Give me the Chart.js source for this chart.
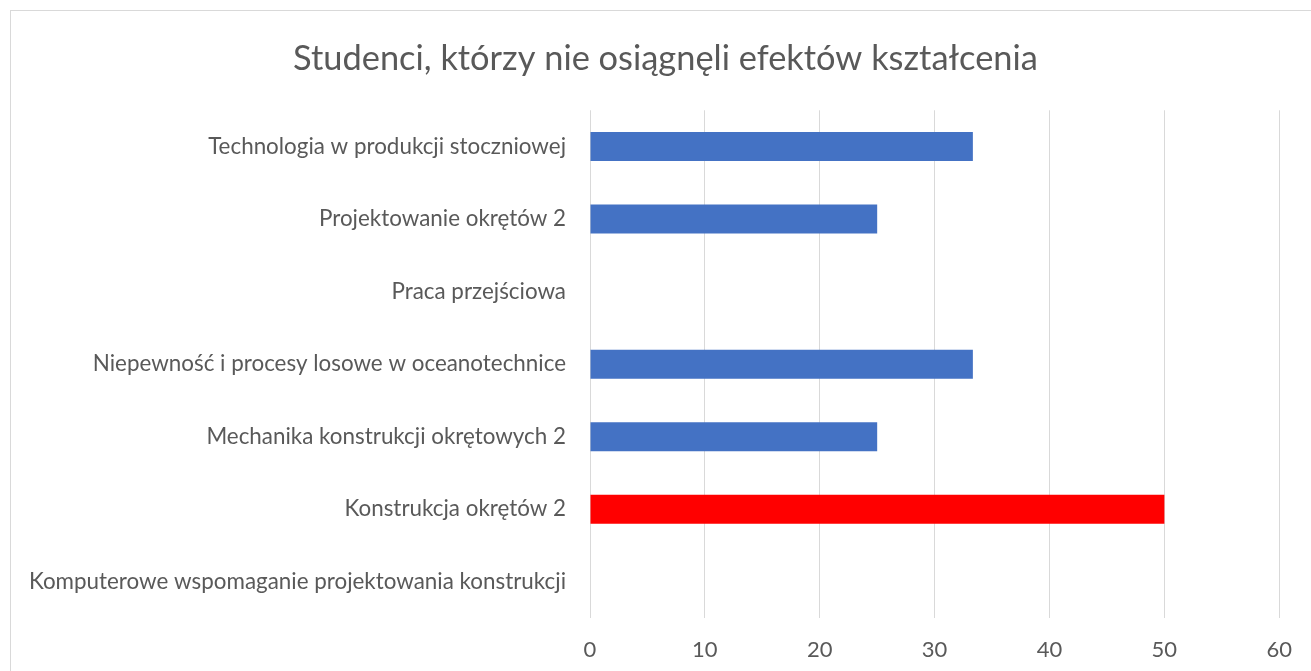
<!DOCTYPE html>
<html><head><meta charset="utf-8">
<script src="https://cdn.jsdelivr.net/npm/chart.js@4/dist/chart.umd.min.js"></script>
<style>
html,body{margin:0;padding:0;background:#fff;overflow:hidden;}
#frame{position:absolute;left:10px;top:10px;width:1400px;height:800px;border:1px solid #d9d9d9;box-sizing:border-box;}
#wrap{position:absolute;left:0;top:0;width:1311px;height:671px;}
</style></head><body>
<div id="frame"></div>
<div id="wrap"><canvas id="c" width="1311" height="671"></canvas></div>
<script>
const title = "Studenci, którzy nie osiągnęli efektów kształcenia";
const categories = [
  "Technologia w produkcji stoczniowej",
  "Projektowanie okrętów 2",
  "Praca przejściowa",
  "Niepewność i procesy losowe w oceanotechnice",
  "Mechanika konstrukcji okrętowych 2",
  "Konstrukcja okrętów 2",
  "Komputerowe wspomaganie projektowania konstrukcji"
];
const values = [33.33, 25, 0, 33.33, 25, 50, 0];
const barColors = ["#4472C4", "#4472C4", "#4472C4", "#4472C4", "#4472C4", "#FF0000", "#4472C4"];
const xTicks = [0, 10, 20, 30, 40, 50, 60];

const FONT = "Lato, 'Open Sans', sans-serif";
new Chart(document.getElementById('c'), {
  type: 'bar',
  data: { labels: categories, datasets: [{ data: values, backgroundColor: barColors, borderWidth: 0, categoryPercentage: 1, barPercentage: 0.4 }] },
  options: {
    indexAxis: 'y', responsive: false, animation: false,
    layout: { padding: { left: 20, right: 0, top: 0, bottom: 0 } },
    plugins: {
      legend: { display: false }, tooltip: { enabled: false },
      title: { display: true, text: title, color: '#595959', font: { family: FONT, size: 34.4, weight: 'normal' }, padding: { top: 38, bottom: 31 } }
    },
    scales: {
      x: {
        min: 0, max: 60,
        afterBuildTicks: s => { s.ticks = xTicks.map(v => ({ value: v })); },
        grid: { color: '#d9d9d9', lineWidth: 1, drawTicks: false },
        border: { display: false },
        ticks: { color: '#595959', font: { family: FONT, size: 22 }, padding: 19 },
        afterFit: s => { s.height = 53; }
      },
      y: {
        grid: { display: false, drawTicks: false },
        border: { display: false },
        ticks: { color: '#595959', font: { family: FONT, size: 22.4 }, padding: 24, autoSkip: false },
        afterFit: s => { s.width = 570; }
      },
      yRight: {
        position: 'right', axis: 'y', type: 'category', labels: categories,
        grid: { display: false, drawTicks: false }, border: { display: false },
        ticks: { display: false },
        afterFit: s => { s.width = 31; }
      }
    }
  }
});
</script>
</body></html>
